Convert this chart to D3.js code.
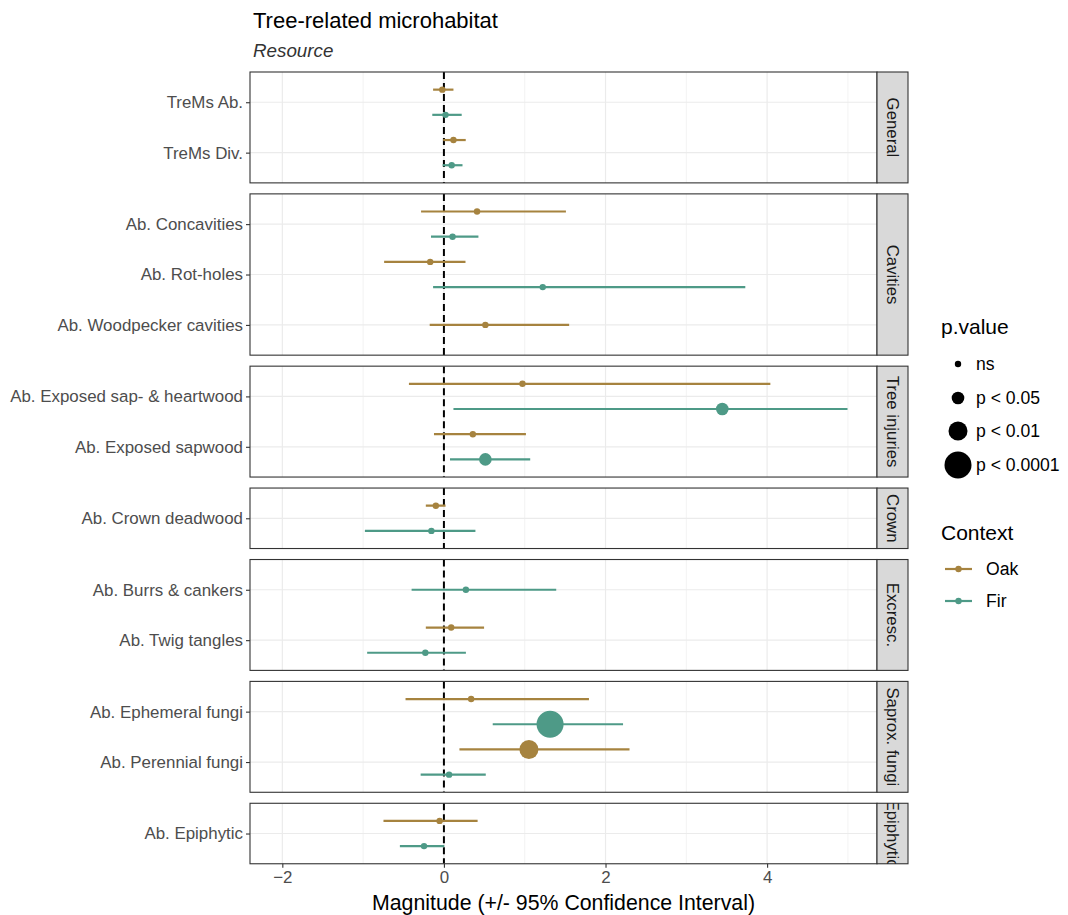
<!DOCTYPE html>
<html><head><meta charset="utf-8">
<script src="https://cdn.jsdelivr.net/npm/d3@7"></script>
<style>body{margin:0;background:#fff;} svg{font-family:"Liberation Sans",Arial,sans-serif;}</style>
</head><body><svg id="c" width="1068" height="915"></svg>
<script>
const groups = ["General","Cavities","Tree injuries","Crown","Excresc.","Saprox. fungi","Epiphytic"];
const categories = ["TreMs Ab.","TreMs Div.","Ab. Concavities","Ab. Rot-holes","Ab. Woodpecker cavities",
  "Ab. Exposed sap- & heartwood","Ab. Exposed sapwood","Ab. Crown deadwood","Ab. Burrs & cankers",
  "Ab. Twig tangles","Ab. Ephemeral fungi","Ab. Perennial fungi","Ab. Epiphytic"];
const categoryGroup = ["General","General","Cavities","Cavities","Cavities","Tree injuries","Tree injuries",
  "Crown","Excresc.","Excresc.","Saprox. fungi","Saprox. fungi","Epiphytic"];
const contexts = ["Oak","Fir"];
const pLevels = ["ns","p < 0.05","p < 0.01","p < 0.0001"];
// Oak series (null = not present)
const oakEst = [-0.02,0.118,0.41,-0.17,0.513,0.972,0.358,-0.10,null,0.09,0.337,1.052,-0.053];
const oakLo  = [-0.134,-0.01,-0.283,-0.74,-0.176,-0.433,-0.123,-0.224,null,-0.224,-0.475,0.192,-0.748];
const oakHi  = [0.118,0.27,1.51,0.267,1.55,4.04,1.015,0.02,null,0.497,1.795,2.297,0.417];
const oakP   = ["ns","ns","ns","ns","ns","ns","ns","ns",null,"ns","ns","p < 0.01","ns"];
// Fir series
const firEst = [0.02,0.096,0.107,1.223,null,3.445,0.513,-0.155,0.272,-0.23,1.314,0.064,-0.246];
const firLo  = [-0.144,-0.016,-0.16,-0.134,null,0.118,0.075,-0.978,-0.40,-0.95,0.604,-0.288,-0.545];
const firHi  = [0.22,0.23,0.427,3.73,null,4.995,1.068,0.39,1.39,0.272,2.217,0.518,0.005];
const firP   = ["ns","ns","ns","ns",null,"p < 0.05","p < 0.05","ns","ns","ns","p < 0.0001","ns","ns"];
const xTicks = [-2,0,2,4];
const xMinor = [-1,1,3,5];

const colors = {Oak:"#A6833F", Fir:"#4E9A87"};
const sizeScale = d3.scaleOrdinal().domain(pLevels).range([3.2,6.3,9.5,13.5]);
const svg = d3.select("#c");

const pL = 250, pR = 877, stripW = 31, top0 = 72, unit = 50.4, gap = 11;
const x = d3.scaleLinear().domain([-2.4,5.36]).range([pL,pR]);
const tickFont = 16.9;

svg.append("text").attr("x",253).attr("y",28).attr("font-size",22).attr("fill","#000").text("Tree-related microhabitat");
svg.append("text").attr("x",253).attr("y",57).attr("font-size",18.8).attr("font-style","italic").attr("fill","#333").text("Resource");

const rows = [];
categories.forEach((c,i)=>{
  if (oakEst[i]!==null) rows.push({cat:c,ctx:"Oak",est:oakEst[i],lo:oakLo[i],hi:oakHi[i],p:oakP[i]});
  if (firEst[i]!==null) rows.push({cat:c,ctx:"Fir",est:firEst[i],lo:firLo[i],hi:firHi[i],p:firP[i]});
});

let yTop = top0;
let lastBottom = 0;
groups.forEach((g,gi)=>{
  const cats = categories.filter((c,i)=>categoryGroup[i]===g);
  const h = unit*(cats.length+0.2);
  const y = d3.scalePoint().domain(cats).range([yTop,yTop+h]).padding(0.6);
  const step = y.step();
  const panel = svg.append("g");
  const clipId = "clip"+gi;
  svg.append("clipPath").attr("id",clipId).append("rect").attr("x",pL).attr("y",yTop).attr("width",pR-pL).attr("height",h);
  const pg = panel.append("g").attr("clip-path",`url(#${clipId})`);
  pg.selectAll(".mn").data(xMinor).join("line").attr("x1",d=>x(d)).attr("x2",d=>x(d))
    .attr("y1",yTop).attr("y2",yTop+h).attr("stroke","#EBEBEB").attr("stroke-width",0.6);
  pg.selectAll(".mj").data(xTicks).join("line").attr("x1",d=>x(d)).attr("x2",d=>x(d))
    .attr("y1",yTop).attr("y2",yTop+h).attr("stroke","#EBEBEB").attr("stroke-width",1.2);
  pg.selectAll(".hy").data(cats).join("line").attr("x1",pL).attr("x2",pR)
    .attr("y1",d=>y(d)).attr("y2",d=>y(d)).attr("stroke","#EBEBEB").attr("stroke-width",1.2);
  pg.append("line").attr("x1",x(0)).attr("x2",x(0)).attr("y1",yTop).attr("y2",yTop+h)
    .attr("stroke","#000").attr("stroke-width",2).attr("stroke-dasharray","7,4");
  const pr = rows.filter(r=>cats.includes(r.cat));
  const yPos = r => {
    const n = pr.filter(q=>q.cat===r.cat).length;
    if (n===1) return y(r.cat);
    return y(r.cat) + (r.ctx==="Oak" ? -0.25 : 0.25)*step;
  };
  pg.selectAll(".eb").data(pr).join("line").attr("x1",d=>x(d.lo)).attr("x2",d=>x(d.hi))
    .attr("y1",yPos).attr("y2",yPos).attr("stroke",d=>colors[d.ctx]).attr("stroke-width",2.2);
  pg.selectAll(".pt").data(pr).join("circle").attr("cx",d=>x(d.est)).attr("cy",yPos)
    .attr("r",d=>sizeScale(d.p)).attr("fill",d=>colors[d.ctx]);
  panel.append("rect").attr("x",pL).attr("y",yTop).attr("width",pR-pL).attr("height",h)
    .attr("fill","none").attr("stroke","#333").attr("stroke-width",1.1);
  const ya = panel.append("g").attr("transform",`translate(${pL},0)`)
    .call(d3.axisLeft(y).tickSize(4).tickPadding(3));
  ya.select(".domain").remove();
  ya.selectAll(".tick line").attr("stroke","#333").attr("stroke-width",1.1);
  ya.selectAll(".tick text").attr("font-size",tickFont).attr("fill","#4D4D4D").attr("font-family","Liberation Sans, Arial, sans-serif");
  const sclip = "sclip"+gi;
  svg.append("clipPath").attr("id",sclip).append("rect").attr("x",pR).attr("y",yTop).attr("width",stripW).attr("height",h);
  panel.append("rect").attr("x",pR).attr("y",yTop).attr("width",stripW).attr("height",h)
    .attr("fill","#D9D9D9").attr("stroke","#333").attr("stroke-width",1.1);
  panel.append("g").attr("clip-path",`url(#${sclip})`).append("text")
    .attr("transform",`translate(${pR+stripW/2},${yTop+h/2}) rotate(90)`)
    .attr("text-anchor","middle").attr("dominant-baseline","central")
    .attr("font-size",16.8).attr("fill","#1A1A1A").text(g);
  lastBottom = yTop+h;
  yTop += h + gap;
});

const xa = svg.append("g").attr("transform",`translate(0,${lastBottom})`)
  .call(d3.axisBottom(x).tickValues(xTicks).tickSize(4).tickPadding(3));
xa.select(".domain").remove();
xa.selectAll(".tick line").attr("stroke","#333").attr("stroke-width",1.1);
xa.selectAll(".tick text").attr("font-size",tickFont).attr("fill","#4D4D4D").attr("font-family","Liberation Sans, Arial, sans-serif");
svg.append("text").attr("x",(pL+pR)/2).attr("y",910).attr("text-anchor","middle")
  .attr("font-size",21.3).attr("fill","#000").text("Magnitude (+/- 95% Confidence Interval)");

const lg = svg.append("g");
lg.append("text").attr("x",941).attr("y",334).attr("font-size",21).attr("fill","#000").text("p.value");
const pY = [364,398,431,465];
pLevels.forEach((p,i)=>{
  lg.append("circle").attr("cx",958).attr("cy",pY[i]).attr("r",sizeScale(p)).attr("fill","#000");
  lg.append("text").attr("x",976).attr("y",pY[i]).attr("dominant-baseline","central").attr("font-size",17.6).attr("fill","#000").text(p);
});
lg.append("text").attr("x",941).attr("y",540).attr("font-size",21).attr("fill","#000").text("Context");
const cY = [569,601];
contexts.forEach((c,i)=>{
  lg.append("line").attr("x1",945).attr("x2",972).attr("y1",cY[i]).attr("y2",cY[i]).attr("stroke",colors[c]).attr("stroke-width",2.2);
  lg.append("circle").attr("cx",958.5).attr("cy",cY[i]).attr("r",3.2).attr("fill",colors[c]);
  lg.append("text").attr("x",986).attr("y",cY[i]).attr("dominant-baseline","central").attr("font-size",17.6).attr("fill","#000").text(c);
});
</script></body></html>
